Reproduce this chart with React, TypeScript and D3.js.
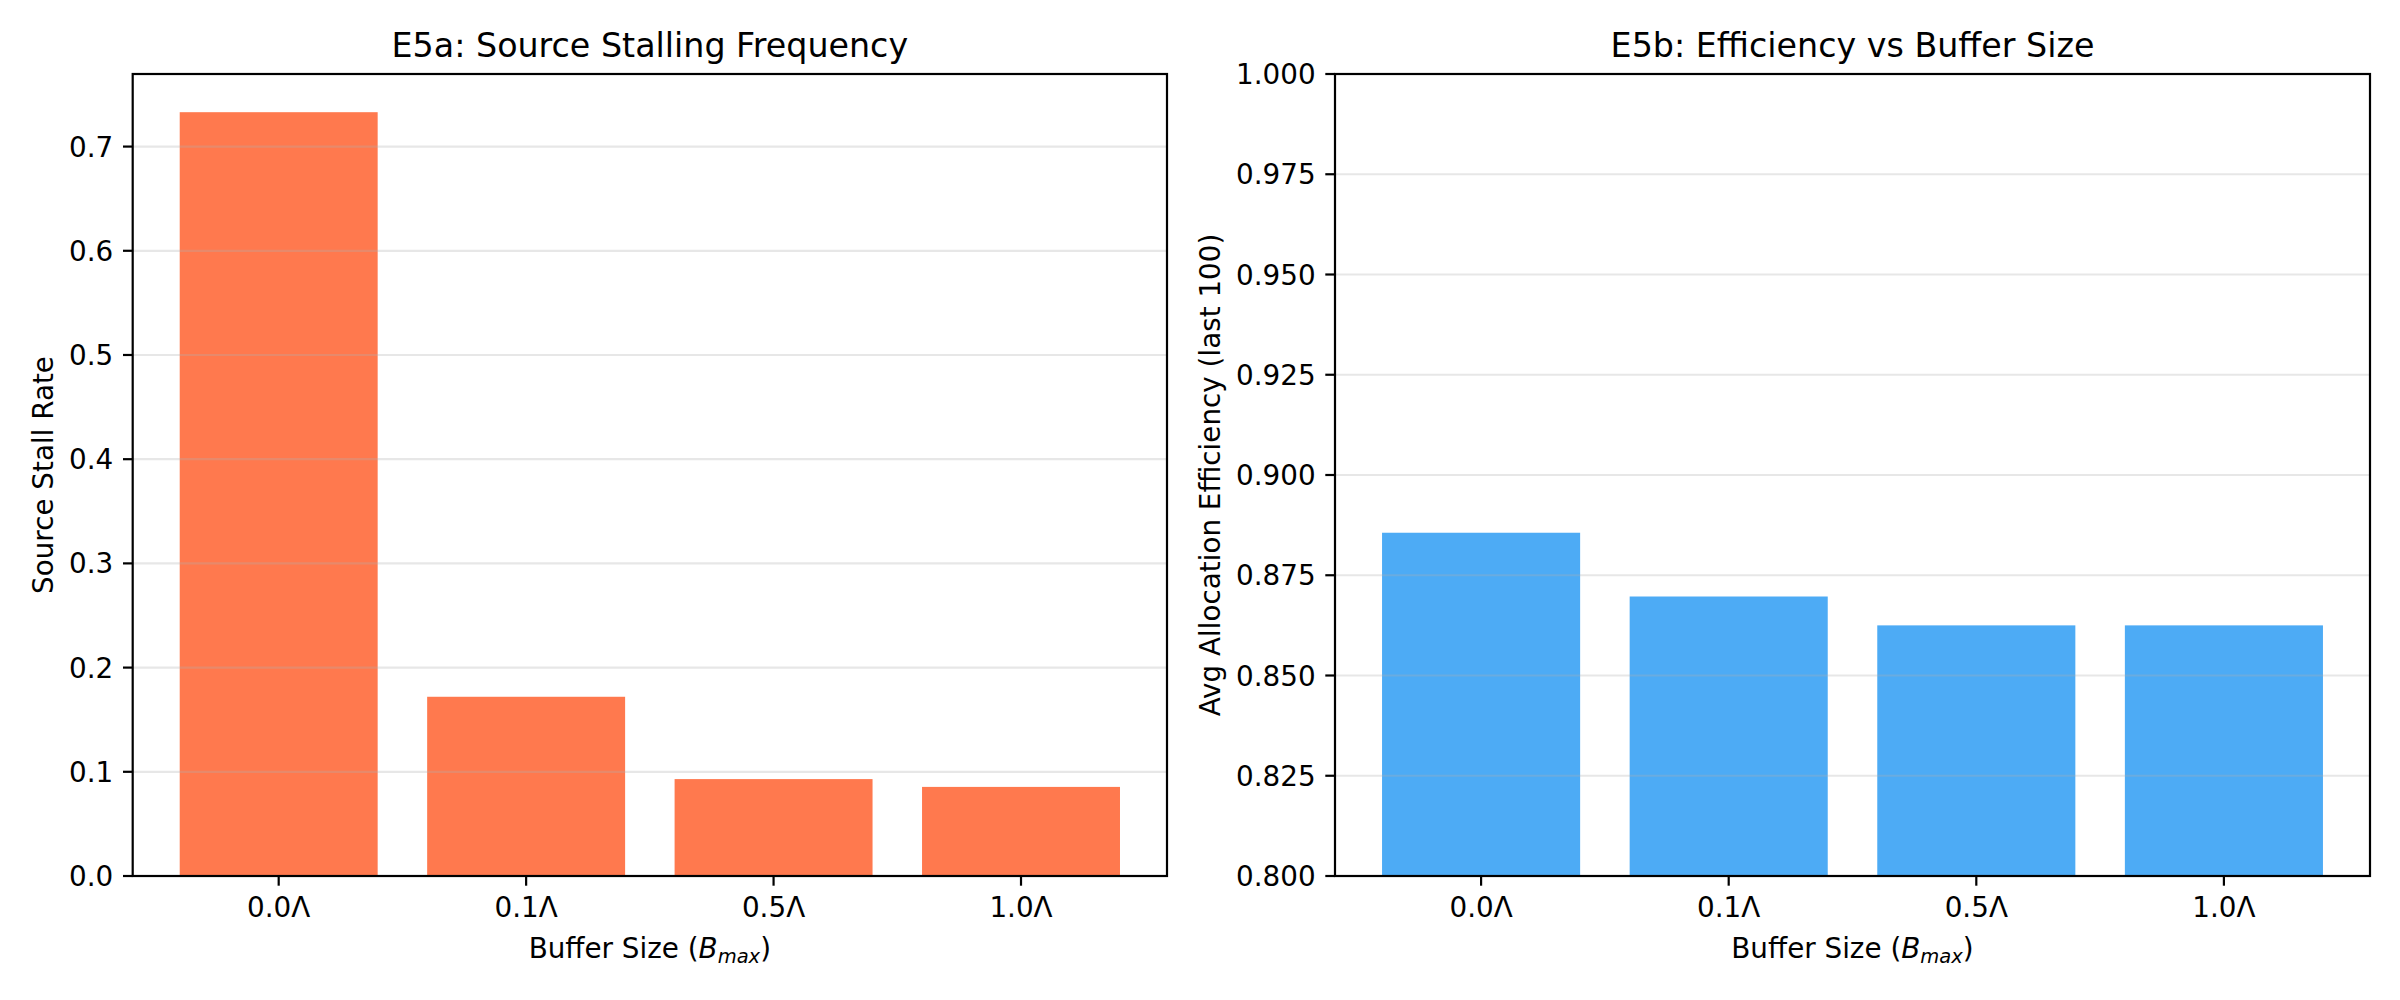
import React from "react";
import * as d3 from "d3";

const categories = ["0.0Λ", "0.1Λ", "0.5Λ", "1.0Λ"];
const stallRates = [0.733, 0.172, 0.093, 0.0855];
const efficiencies = [0.8856, 0.8697, 0.8625, 0.8625];
const leftTicks = [0, 0.1, 0.2, 0.3, 0.4, 0.5, 0.6, 0.7];
const rightTicks = [0.8, 0.825, 0.85, 0.875, 0.9, 0.925, 0.95, 0.975, 1.0];

const FONT = "'DejaVu Sans', sans-serif";
const TICK_FS = 27.8;
const TITLE_FS = 33.3;
const LW = 2.2;
const TICK_LEN = 9.7;
const TICK_PAD = 9.7;

type PanelProps = {
  x0: number;
  x1: number;
  values: number[];
  yDomain: [number, number];
  yTicks: number[];
  yFormat: (v: number) => string;
  color: string;
  title: string;
  yLabel: string;
  yLabelX: number;
};

const TOP = 74;
const BOTTOM = 876;

function Panel({ x0, x1, values, yDomain, yTicks, yFormat, color, title, yLabel, yLabelX }: PanelProps) {
  const x = d3.scaleLinear().domain([-0.59, categories.length - 1 + 0.59]).range([x0, x1]);
  const y = d3.scaleLinear().domain(yDomain).range([BOTTOM, TOP]);
  const cx = (x0 + x1) / 2;
  const cy = (TOP + BOTTOM) / 2;
  const clipId = `clip-${Math.round(x0)}`;
  return (
    <g>
      <defs>
        <clipPath id={clipId}>
          <rect x={x0} y={TOP} width={x1 - x0} height={BOTTOM - TOP} />
        </clipPath>
      </defs>
      <g clipPath={`url(#${clipId})`}>
        {values.map((v, i) => {
          const yb = y(Math.max(0, yDomain[0]));
          return (
            <rect
              key={i}
              x={x(i - 0.4)}
              width={x(i + 0.4) - x(i - 0.4)}
              y={y(v)}
              height={yb - y(v)}
              fill={color}
              fillOpacity={0.8}
            />
          );
        })}
        {yTicks.map((t, i) => (
          <line
            key={i}
            x1={x0}
            x2={x1}
            y1={y(t)}
            y2={y(t)}
            stroke="#b0b0b0"
            strokeOpacity={0.3}
            strokeWidth={LW}
          />
        ))}
      </g>
      {/* spines */}
      <rect x={x0} y={TOP} width={x1 - x0} height={BOTTOM - TOP} fill="none" stroke="#000" strokeWidth={LW} />
      {/* y ticks */}
      {yTicks.map((t, i) => (
        <g key={i}>
          <line x1={x0 - TICK_LEN} x2={x0} y1={y(t)} y2={y(t)} stroke="#000" strokeWidth={LW} />
          <text
            x={x0 - TICK_LEN - TICK_PAD}
            y={y(t) + 10}
            textAnchor="end"
            fontFamily={FONT}
            fontSize={TICK_FS}
            fill="#000"
          >
            {yFormat(t)}
          </text>
        </g>
      ))}
      {/* x ticks */}
      {categories.map((c, i) => (
        <g key={i}>
          <line x1={x(i)} x2={x(i)} y1={BOTTOM} y2={BOTTOM + TICK_LEN} stroke="#000" strokeWidth={LW} />
          <text x={x(i)} y={917} textAnchor="middle" fontFamily={FONT} fontSize={TICK_FS} fill="#000">
            {c}
          </text>
        </g>
      ))}
      {/* title */}
      <text x={cx} y={57.3} textAnchor="middle" fontFamily={FONT} fontSize={TITLE_FS} fill="#000">
        {title}
      </text>
      {/* x label */}
      <text x={cx} y={957.5} textAnchor="middle" fontFamily={FONT} fontSize={TICK_FS} fill="#000">
        <tspan>Buffer Size (</tspan>
        <tspan fontStyle="italic">B</tspan>
        <tspan fontStyle="italic" fontSize={19.5} dy={5}>max</tspan>
        <tspan dy={-5}>)</tspan>
      </text>
      {/* y label */}
      <text
        transform={`translate(${yLabelX},${cy}) rotate(-90)`}
        textAnchor="middle"
        fontFamily={FONT}
        fontSize={TICK_FS}
        fill="#000"
      >
        {yLabel}
      </text>
    </g>
  );
}

export default function App() {
  const leftMax = d3.max(stallRates) as number;
  return (
    <svg
      width={2400}
      height={1000}
      style={{ position: "absolute", left: 0, top: 0, background: "#fff" }}
    >
      <rect x={0} y={0} width={2400} height={1000} fill="#fff" />
      <Panel
        x0={132.7}
        x1={1167}
        values={stallRates}
        yDomain={[0, leftMax * 1.05]}
        yTicks={leftTicks}
        yFormat={d3.format(".1f")}
        color="#FF5722"
        title="E5a: Source Stalling Frequency"
        yLabel="Source Stall Rate"
        yLabelX={53}
      />
      <Panel
        x0={1335}
        x1={2370}
        values={efficiencies}
        yDomain={[0.8, 1.0]}
        yTicks={rightTicks}
        yFormat={d3.format(".3f")}
        color="#2196F3"
        title="E5b: Efficiency vs Buffer Size"
        yLabel="Avg Allocation Efficiency (last 100)"
        yLabelX={1220}
      />
    </svg>
  );
}
